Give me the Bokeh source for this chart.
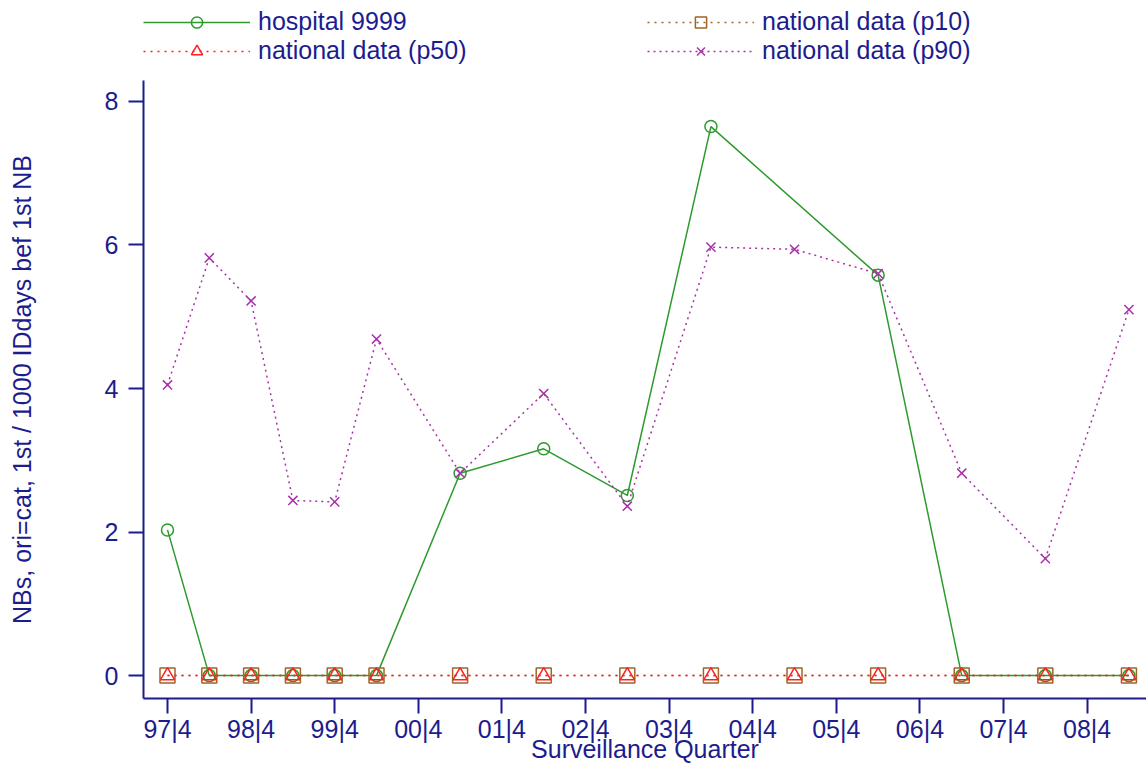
from bokeh.plotting import figure
from bokeh.models import Range1d, FixedTicker, Legend, LegendItem
from bokeh.layouts import column
from bokeh.embed import file_html
from bokeh.resources import INLINE

# ---- data (x in quarters after 97|4) ----
quarters = [0, 2, 4, 6, 8, 10, 14, 18, 22, 26, 30, 34, 38, 42, 46]
hospital = [2.03, 0, 0, 0, 0, 0, 2.82, 3.16, 2.51, 7.65, None, 5.58, 0, 0, 0]
p10 = [0, 0, 0, 0, 0, 0, 0, 0, 0, 0, 0, 0, 0, 0, 0]
p50 = [0, 0, 0, 0, 0, 0, 0, 0, 0, 0, 0, 0, 0, 0, 0]
p90 = [4.05, 5.82, 5.22, 2.44, 2.42, 4.69, 2.82, 3.93, 2.36, 5.97, 5.94, 5.60, 2.82, 1.63, 5.10]
tick_pos = [0, 4, 8, 12, 16, 20, 24, 28, 32, 36, 40, 44]
tick_labels = ["97|4", "98|4", "99|4", "00|4", "01|4", "02|4", "03|4",
               "04|4", "05|4", "06|4", "07|4", "08|4"]
y_ticks = [0, 2, 4, 6, 8]
series_names = ["hospital 9999", "national data (p10)",
                "national data (p50)", "national data (p90)"]

NAVY = "#1c1c8e"
GREEN = "#2e9a2e"
BROWN = "#a0642a"
RED = "#ff2020"
PURPLE = "#a832a8"
FONT = "Liberation Sans"
FS = "25px"

styles = [
    dict(color=GREEN, dash="solid", marker="circle", size=12),
    dict(color=BROWN, dash="2 5", marker="square", size=15),
    dict(color=RED, dash="2 5", marker="triangle", size=14),
    dict(color=PURPLE, dash="2 4", marker="x", size=13),
]

hx = [q for q, v in zip(quarters, hospital) if v is not None]
hy = [v for v in hospital if v is not None]
series = [(hx, hy), (quarters, p10), (quarters, p50), (quarters, p90)]


def draw(fig, xs, ys, st):
    rl = fig.line(xs, ys, line_color=st["color"], line_width=1.5, line_dash=st["dash"])
    if st["marker"] == "x":
        rm = fig.scatter(xs, ys, marker="x", size=st["size"],
                         line_color=st["color"], line_width=1.5)
    else:
        rm = fig.scatter(xs, ys, marker=st["marker"], size=st["size"], fill_color=None,
                         line_color=st["color"], line_width=1.5)
    return rl, rm


# ---------------- main plot ----------------
p = figure(width=1146, height=685, output_backend="svg", toolbar_location=None,
           x_range=Range1d(-1.148, 46.84), y_range=Range1d(-0.319, 8.292),
           min_border_left=143, min_border_right=0, min_border_top=0,
           min_border_bottom=65, background_fill_color="white")
p.outline_line_color = None
p.grid.visible = False

for (xs, ys), st in zip(series, styles):
    draw(p, xs, ys, st)

for ax in (p.xaxis[0], p.yaxis[0]):
    ax.axis_line_color = NAVY
    ax.axis_line_width = 2
    ax.major_tick_line_color = NAVY
    ax.major_tick_line_width = 2
    ax.major_tick_in = 0
    ax.major_tick_out = 15
    ax.minor_tick_line_color = None
    ax.major_label_text_color = NAVY
    ax.major_label_text_font = FONT
    ax.major_label_text_font_size = FS
    ax.axis_label_text_color = NAVY
    ax.axis_label_text_font = FONT
    ax.axis_label_text_font_size = FS
    ax.axis_label_text_font_style = "normal"

p.xaxis[0].ticker = FixedTicker(ticks=tick_pos)
p.xaxis[0].major_label_overrides = {t: l for t, l in zip(tick_pos, tick_labels)}
p.xaxis[0].major_label_standoff = 1
p.xaxis[0].axis_label = "Surveillance Quarter"
p.xaxis[0].axis_label_standoff = -11
p.yaxis[0].ticker = FixedTicker(ticks=y_ticks)
p.yaxis[0].major_label_standoff = 10
p.yaxis[0].axis_label = "NBs, ori=cat, 1st / 1000 IDdays bef 1st NB"
p.yaxis[0].axis_label_standoff = 66

# ---------------- legend strip on top ----------------
# the legend strip's ranges are set so its (series) glyphs stay out of view;
# only the legend swatches are visible
pl = figure(width=1146, height=80, output_backend="svg", toolbar_location=None,
            x_range=Range1d(-200, -199), y_range=Range1d(-200, -199),
            x_axis_type=None, y_axis_type=None, min_border=0)
pl.outline_line_color = None
pl.grid.visible = False

items = []
for name, (xs, ys), st in zip(series_names, series, styles):
    rl, rm = draw(pl, xs, ys, st)
    items.append(LegendItem(label=name, renderers=[rl, rm]))

legend = Legend(items=items, location=(0, 15), orientation="horizontal", ncols=2,
                glyph_width=107, glyph_height=28, label_height=28, label_width=389,
                label_standoff=8, spacing=0, padding=0, margin=0,
                border_line_color=None, background_fill_alpha=0,
                label_text_color=NAVY, label_text_font=FONT, label_text_font_size=FS)
pl.add_layout(legend)

layout = column(pl, p, spacing=0)
open("out.html", "w").write(file_html(layout, INLINE))
